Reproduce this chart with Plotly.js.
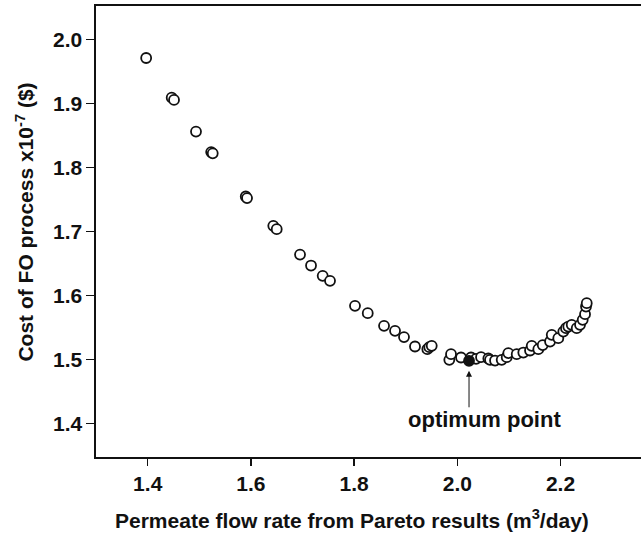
<!DOCTYPE html>
<html>
<head>
<meta charset="utf-8">
<script src="https://cdn.plot.ly/plotly-3.0.1.min.js"></script>
<style>
  html, body { margin: 0; padding: 0; background: #fff; overflow: hidden; }
  #chart { width: 700px; height: 543px; }
</style>
</head>
<body>
<div id="chart"></div>
<script>
// Pareto front: permeate flow rate (m3/day) vs. FO process cost (x10^-7 $)
const flowRate = [
  1.397, 1.4465, 1.451, 1.4936, 1.523, 1.526, 1.590, 1.5925, 1.6434, 1.650,
  1.6952, 1.7165, 1.7391, 1.7533, 1.8017, 1.8264, 1.858, 1.8793, 1.8967, 1.918,
  1.9419, 1.9457, 1.9504, 1.9845, 1.9878, 2.0072, 2.0266, 2.0363, 2.046, 2.0601,
  2.0634, 2.0731, 2.086, 2.0957, 2.0988, 2.1151, 2.1279, 2.1409, 2.1442, 2.157,
  2.1655, 2.1797, 2.183, 2.1957, 2.2054, 2.2106, 2.2151, 2.2217, 2.2314, 2.2378,
  2.243, 2.2475, 2.2494, 2.2508
];
const processCost = [
  1.971, 1.909, 1.9055, 1.856, 1.824, 1.822, 1.7545, 1.752, 1.7086, 1.7034,
  1.6637, 1.6466, 1.6305, 1.6227, 1.5836, 1.5722, 1.5523, 1.5445, 1.5347, 1.520,
  1.5159, 1.519, 1.5211, 1.4992, 1.5081, 1.5028, 1.5028, 1.5008, 1.5034, 1.5013,
  1.4992, 1.4981, 1.4992, 1.5034, 1.5097, 1.5081, 1.5106, 1.5138, 1.5211, 1.5159,
  1.5222, 1.5278, 1.5383, 1.5331, 1.5434, 1.5487, 1.5512, 1.5539, 1.5487, 1.5539,
  1.5617, 1.5706, 1.5825, 1.5878
];
// selected optimum of the front
const optimumFlow = [2.0227];
const optimumCost = [1.4977];

const xTicks = [1.4, 1.6, 1.8, 2.0, 2.2];
const yTicks = [1.4, 1.5, 1.6, 1.7, 1.8, 1.9, 2.0];

const FONT = 'Liberation Sans, Arial, Helvetica, sans-serif';
const tickFont = { family: FONT, size: 21, color: '#111', weight: 700 };

const traces = [
  {
    x: flowRate, y: processCost, type: 'scatter', mode: 'markers',
    marker: { size: 10, color: '#fff', line: { color: '#111', width: 1.8 } },
    hoverinfo: 'x+y', showlegend: false
  },
  {
    x: optimumFlow, y: optimumCost, type: 'scatter', mode: 'markers',
    marker: { size: 10, color: '#111', line: { color: '#111', width: 1.8 } },
    hoverinfo: 'x+y', showlegend: false
  }
];

const axisCommon = {
  showline: true, linecolor: '#111', linewidth: 1.6, mirror: true,
  ticks: 'outside', tickcolor: '#111', tickwidth: 1.5,
  showgrid: false, zeroline: false, tickfont: tickFont, tickformat: '.1f'
};

const layout = {
  width: 700, height: 543,
  margin: { l: 96, r: 50, t: 6, b: 86 },
  paper_bgcolor: '#fff', plot_bgcolor: '#fff',
  xaxis: Object.assign({}, axisCommon, {
    range: [1.2998, 2.3734], tickvals: xTicks, ticklen: 7
  }),
  yaxis: Object.assign({}, axisCommon, {
    range: [1.3473, 2.0523], tickvals: yTicks, ticklen: 8
  }),
  annotations: [
    {
      xref: 'paper', yref: 'paper', x: 0.462, y: -0.138,
      xanchor: 'center', yanchor: 'middle', showarrow: false,
      text: 'Permeate flow rate from Pareto results (m<sup>3</sup>/day)',
      font: tickFont
    },
    {
      xref: 'paper', yref: 'paper', x: -0.128, y: 0.52,
      xanchor: 'center', yanchor: 'middle', showarrow: false, textangle: -90,
      text: 'Cost of FO process x10<sup>-7</sup> ($)',
      font: tickFont
    },
    {
      x: optimumFlow[0], y: optimumCost[0], xref: 'x', yref: 'y',
      text: '', showarrow: true, ax: 0, ay: 48, standoff: 10,
      arrowhead: 2, arrowsize: 1.2, arrowwidth: 1, arrowcolor: '#111'
    },
    {
      x: optimumFlow[0], y: optimumCost[0], xref: 'x', yref: 'y',
      text: 'optimum point', showarrow: false,
      xshift: 15, yshift: -59, xanchor: 'center', yanchor: 'middle',
      font: { family: FONT, size: 22, color: '#111', weight: 700 }
    }
  ]
};

Plotly.newPlot('chart', traces, layout, { displayModeBar: false, staticPlot: true });
</script>
</body>
</html>
